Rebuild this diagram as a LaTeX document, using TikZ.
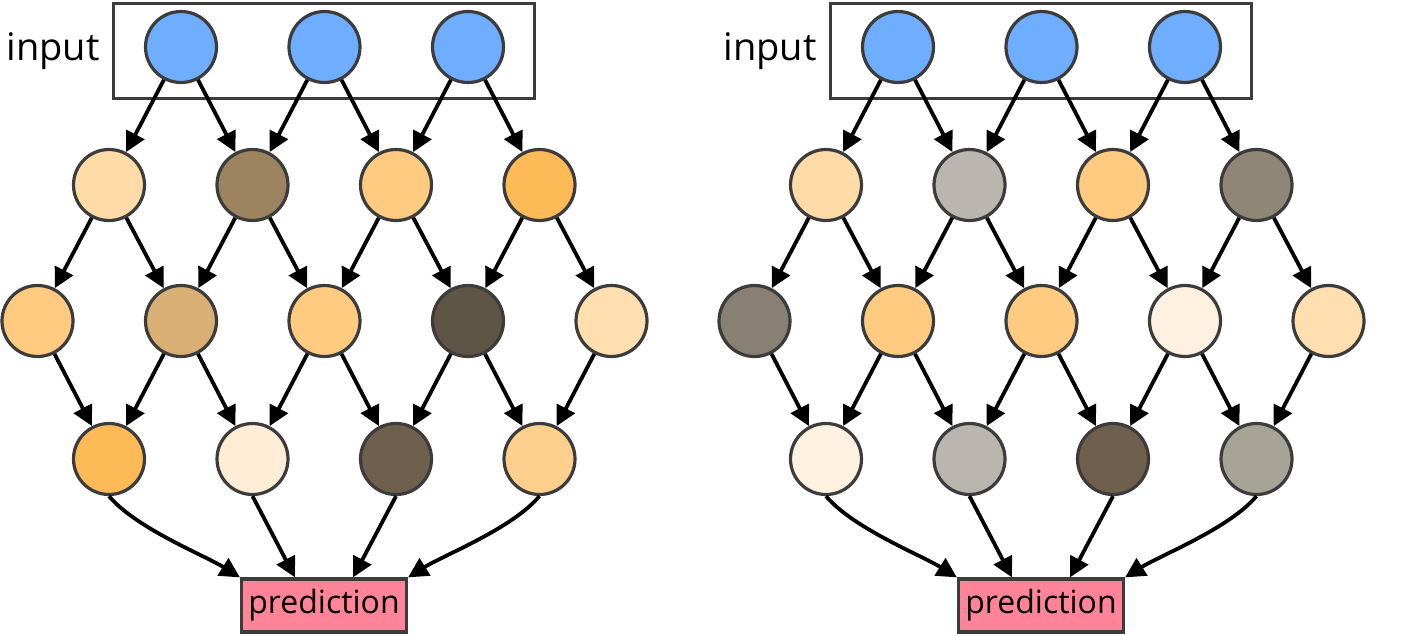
\documentclass[tikz,border=0pt]{standalone}
\usepackage{fontspec}
\setmainfont{Open Sans}
\usetikzlibrary{positioning,arrows.meta}

\definecolor{rim}{HTML}{3C3C3C}
\definecolor{inblue}{HTML}{6FADFF}
\definecolor{predpink}{HTML}{FF8497}
% warm units
\definecolor{cream}{HTML}{FFDBA8}
\definecolor{peach}{HTML}{FFCB80}
\definecolor{amber}{HTML}{FFBA58}
\definecolor{pale}{HTML}{FFDFB0}
\definecolor{ivory}{HTML}{FFEDD6}
\definecolor{shell}{HTML}{FFF1DF}
\definecolor{apricot}{HTML}{FFD08D}
% dark units
\definecolor{bronze}{HTML}{9C845F}
\definecolor{tan}{HTML}{D9AF75}
\definecolor{umber}{HTML}{5E5545}
\definecolor{sepia}{HTML}{6E604C}
\definecolor{ash}{HTML}{BAB5AE}
\definecolor{slate}{HTML}{8F8676}
\definecolor{smoke}{HTML}{878073}
\definecolor{stone}{HTML}{A8A397}

\begin{document}
\begin{tikzpicture}[x=1pt,y=-1pt,
  unit/.style={circle,draw=rim,line width=3.2pt,minimum size=71pt,inner sep=0pt},
  frame/.style={draw=rim,line width=3.2pt,inner sep=0pt},
  edge/.style={line width=3.8pt,-{Triangle[length=20pt,width=20pt]}}]
\useasboundingbox (0,0) rectangle (1403,635);

\foreach \n/\ox/\colA/\colB/\colC in {
  l/0/{cream,bronze,peach,amber}/{peach,tan,peach,umber,pale}/{amber,ivory,sepia,apricot},
  r/717/{cream,ash,peach,slate}/{smoke,peach,peach,shell,pale}/{shell,ash,sepia,stone}} {

  % input frame and its label
  \node[frame,minimum width=421pt,minimum height=95pt] (\n-box) at (\ox+324,51) {};
  \node[inner sep=0pt,left=12pt of \n-box,font=\fontsize{38}{40}\selectfont] (\n-lab) {input};

  % units
  \foreach \i in {1,2,3}
    \node[unit,fill=inblue] (\n-in-\i) at (\ox+37.5+143.5*\i,47) {};
  \foreach \c [count=\i] in \colA
    \node[unit,fill=\c] (\n-a-\i) at (\ox-34.5+143.5*\i,185) {};
  \foreach \c [count=\i] in \colB
    \node[unit,fill=\c] (\n-b-\i) at (\ox-106+143.5*\i,321) {};
  \foreach \c [count=\i] in \colC
    \node[unit,fill=\c] (\n-c-\i) at (\ox-34.5+143.5*\i,459) {};

  \node[frame,fill=predpink,minimum width=165pt,minimum height=53pt,
    font=\fontsize{32}{34}\selectfont] (\n-pred) at (\ox+324,605.5) {prediction};

  % connections
  \foreach \i [evaluate=\i as \j using int(\i+1)] in {1,2,3} {
    \draw[edge] (\n-in-\i) -- (\n-a-\i);
    \draw[edge] (\n-in-\i) -- (\n-a-\j);
  }
  \foreach \i [evaluate=\i as \j using int(\i+1)] in {1,...,4} {
    \draw[edge] (\n-a-\i) -- (\n-b-\i);
    \draw[edge] (\n-a-\i) -- (\n-b-\j);
    \draw[edge] (\n-b-\i) -- (\n-c-\i);
    \draw[edge] (\n-b-\j) -- (\n-c-\i);
  }
  \draw[edge] (\n-c-1.south) to[out=-50,in=148,looseness=0.7] (\n-pred.north west);
  \draw[edge] (\n-c-2.south) -- ([xshift=-29pt]\n-pred.north);
  \draw[edge] (\n-c-3.south) -- ([xshift=29pt]\n-pred.north);
  \draw[edge] (\n-c-4.south) to[out=-130,in=32,looseness=0.7] (\n-pred.north east);
}
\end{tikzpicture}
\end{document}
